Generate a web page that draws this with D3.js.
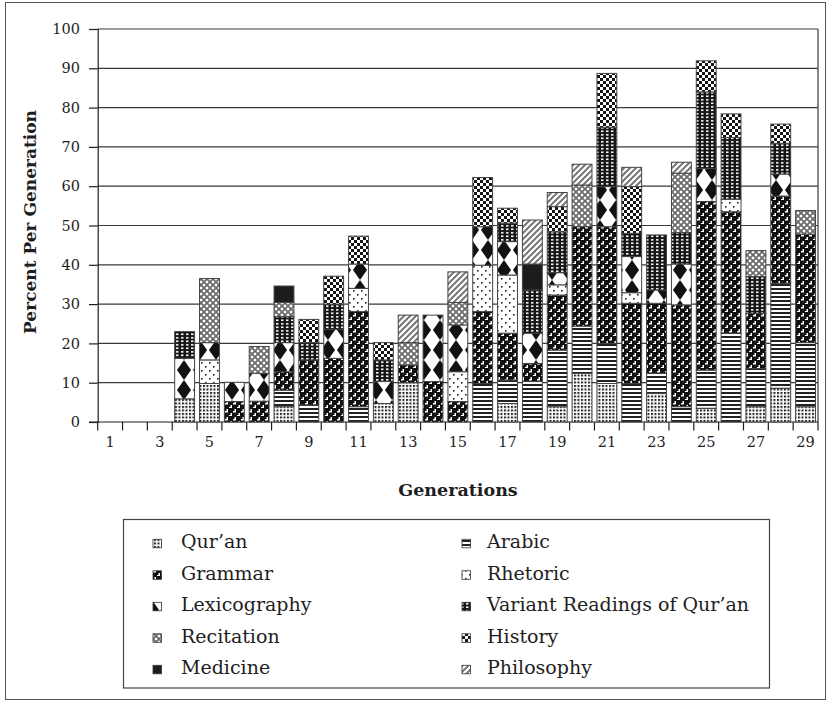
<!DOCTYPE html>
<html><head><meta charset="utf-8">
<script src="https://cdn.jsdelivr.net/npm/d3@7"></script>
<style>body{margin:0;background:#fff} svg{display:block}</style>
</head><body><svg id="chart" width="832" height="704"></svg>
<script>
const generations = [1,2,3,4,5,6,7,8,9,10,11,12,13,14,15,16,17,18,19,20,21,22,23,24,25,26,27,28,29];
const xTickLabels = ["1","3","5","7","9","11","13","15","17","19","21","23","25","27","29"];
const yTickValues = [0,10,20,30,40,50,60,70,80,90,100];
const seriesNames = ["Qur\u2019an","Arabic","Grammar","Rhetoric","Lexicography","Variant Readings of Qur\u2019an","Recitation","History","Medicine","Philosophy"];

const quran      = [0,0,0,5.9,9.8,0,0,3.9,0,0,0,4.7,10.0,0,0,0,4.7,0,3.9,12.4,9.8,0,7.3,0,3.5,0,3.9,8.6,3.9];
const arabic     = [0,0,0,0,0,0,0,4.2,4.3,0,3.9,0,0,0,0,9.8,6.0,10.3,14.4,12.0,10.2,9.8,5.1,3.9,9.7,22.6,9.7,26.7,16.3];
const grammar    = [0,0,0,0,0,5.2,5.3,4.7,11.5,16.2,24.2,0,4.5,10.3,5.2,18.3,11.9,4.6,14.0,25.3,29.7,20.4,17.8,25.9,42.9,30.9,14.0,22.2,27.6];
const rhetoric   = [0,0,0,0,6.0,0,0,0,0,0,5.9,0,0,0,7.6,11.8,14.8,0,2.6,0,0,2.7,0,0,0,3.2,0,0,0];
const lexicography=[0,0,0,10.3,4.4,4.9,7.1,7.4,0,7.4,6.2,5.6,0,16.9,11.9,9.8,8.5,7.7,3.1,0,10.2,9.2,3.4,10.4,8.4,0,0,5.6,0];
const variant    = [0,0,0,6.8,0,0,0,6.6,4.4,6.4,0,5.5,0,0,0,0,4.7,11.0,10.4,0,15.1,5.9,14.0,8.0,19.5,15.7,9.4,7.8,0];
const recitation = [0,0,0,0,16.3,0,6.8,3.6,0,0,0,0,5.7,0,5.7,0,0,0,0,10.6,0,0,0,15.1,0,0,6.6,0,6.0];
const history    = [0,0,0,0,0,0,0,0,5.9,7.1,7.1,4.4,0,0,0,12.5,3.8,0,6.4,0,13.7,11.9,0,0,7.9,6.0,0,4.9,0];
const medicine   = [0,0,0,0,0,0,0,4.2,0,0,0,0,0,0,0,0,0,6.6,0,0,0,0,0,0,0,0,0,0,0];
const philosophy = [0,0,0,0,0,0,0,0,0,0,0,0,7.0,0,7.8,0,0,11.2,3.6,5.3,0,4.9,0,2.8,0,0,0,0,0];

(function(){
const seriesValues = [quran,arabic,grammar,rhetoric,lexicography,variant,recitation,history,medicine,philosophy];
const keys = ["q","a","g","r","l","v","rc","h","m","p"];
const table = generations.map((g,i)=>{ const o={gen:g}; keys.forEach((k,j)=>o[k]=seriesValues[j][i]); return o; });

const svg = d3.select("#chart");
const FONT = "'DejaVu Serif', serif";
const INK = "#1e1e1e";

const defs = svg.append("defs");
function pat(id,w,h,bg,draw){
  const p = defs.append("pattern").attr("id",id).attr("patternUnits","userSpaceOnUse").attr("width",w).attr("height",h);
  p.append("rect").attr("width",w).attr("height",h).attr("fill",bg);
  draw(p);
}
const R = (p,x,y,w,h,c)=>p.append("rect").attr("x",x).attr("y",y).attr("width",w).attr("height",h).attr("fill",c);
pat("p-q",3.5,3.5,"#fff",p=>{ R(p,0,0,2,2,"#222"); });
pat("p-a",4,4,"#fff",p=>{ R(p,0,0,4,2,"#222"); });
pat("p-g",8,8,"#111",p=>{
  R(p,1,3,3,1.5,"#fff"); R(p,2.5,1,1.5,2.5,"#fff");
  R(p,5,7,3,1,"#fff"); R(p,6.5,5,1.5,2.5,"#fff"); R(p,5,-1,3,0.5,"#fff");
});
pat("p-r",8,8,"#fff",p=>{ R(p,1,2,1.6,1.6,"#222"); R(p,5,6,1.6,1.6,"#222"); });
pat("p-l",16,20,"#fff",p=>{ p.append("path").attr("d","M8,0L15,10L8,20L1,10Z").attr("fill","#111"); });
pat("p-v",5,3.5,"#151515",p=>{ R(p,1,1,2.5,1.6,"#fff"); });
pat("p-rc",6,6,"#fff",p=>{
  p.append("path").attr("d","M0,0L6,6M6,0L0,6M5,-1L7,1M-1,5L1,7M-1,1L1,-1M5,7L7,5").attr("stroke","#6a6a6a").attr("stroke-width",1.7).attr("fill","none");
});
pat("p-h",6,6,"#fff",p=>{ R(p,0,0,3,3,"#151515"); R(p,3,3,3,3,"#151515"); });
pat("p-m",4,4,"#1c1c1c",p=>{});
pat("p-p",6,6,"#fff",p=>{
  p.append("path").attr("d","M0,6L6,0M-1,1L1,-1M5,7L7,5").attr("stroke","#777").attr("stroke-width",2).attr("fill","none");
});
const fillOf = k => `url(#p-${k})`;

svg.append("rect").attr("x",5.5).attr("y",2.5).attr("width",820).attr("height",697)
  .attr("fill","none").attr("stroke","#555").attr("stroke-width",1);

const pL = 97.7, pR = 818, pT = 29, pB = 422;
const x = d3.scaleBand().domain(generations).range([pL,pR]).paddingInner(0.2).paddingOuter(0.1);
const y = d3.scaleLinear().domain([0,100]).range([pB,pT]);

svg.append("g").selectAll("line").data(yTickValues.filter(v=>v>0)).join("line")
  .attr("x1",pL).attr("x2",pR).attr("y1",d=>y(d)).attr("y2",d=>y(d))
  .attr("stroke","#3a3a3a").attr("stroke-width",1.2);
svg.append("line").attr("x1",pR).attr("x2",pR).attr("y1",y(100)).attr("y2",y(0))
  .attr("stroke","#3a3a3a").attr("stroke-width",1.2);

const yAxis = svg.append("g").attr("transform",`translate(${pL},0)`)
  .call(d3.axisLeft(y).tickValues(yTickValues).tickSize(8.7).tickPadding(9).tickFormat(d3.format("d")));
yAxis.select(".domain").attr("stroke",INK).attr("stroke-width",1.2);
yAxis.selectAll(".tick line").attr("stroke",INK).attr("stroke-width",1.2);
yAxis.selectAll("text").attr("font-family",FONT).attr("font-size",14.5).attr("fill",INK);

const xAxis = svg.append("g").attr("transform",`translate(0,${pB})`)
  .call(d3.axisBottom(x).tickValues(generations.filter(g=>xTickLabels.includes(String(g)))).tickSize(0).tickPadding(15));
xAxis.select(".domain").remove();
xAxis.selectAll("text").attr("font-family",FONT).attr("font-size",14.5).attr("fill",INK);
svg.append("line").attr("x1",89).attr("x2",pR).attr("y1",pB).attr("y2",pB).attr("stroke",INK).attr("stroke-width",1.2);
const half = (x.step()-x.bandwidth())/2;
const bounds = generations.map(g=>x(g)-half).concat([x(generations[generations.length-1])+x.bandwidth()+half]);
svg.append("g").selectAll("line").data(bounds).join("line")
  .attr("x1",d=>d).attr("x2",d=>d).attr("y1",pB).attr("y2",pB+8.5)
  .attr("stroke",INK).attr("stroke-width",1.2);

const stacked = d3.stack().keys(keys)(table);
const gBars = svg.append("g");
stacked.forEach(s=>{
  gBars.append("g").selectAll("rect").data(s.filter(d=>d[1]-d[0]>0)).join("rect")
    .attr("x",d=>x(d.data.gen)).attr("width",x.bandwidth())
    .attr("y",d=>y(d[1])).attr("height",d=>y(d[0])-y(d[1]))
    .attr("fill",fillOf(s.key)).attr("stroke","#444").attr("stroke-width",1);
});

svg.append("text").attr("transform","translate(36,222) rotate(-90)").attr("text-anchor","middle")
  .attr("font-family",FONT).attr("font-weight","bold").attr("font-size",17).attr("fill",INK)
  .text("Percent Per Generation");
svg.append("text").attr("x",458).attr("y",496).attr("text-anchor","middle")
  .attr("font-family",FONT).attr("font-weight","bold").attr("font-size",17.5).attr("fill",INK)
  .text("Generations");

svg.append("rect").attr("x",123.5).attr("y",519.5).attr("width",646).attr("height",168.5)
  .attr("fill","none").attr("stroke","#444").attr("stroke-width",1.2);
const lg = svg.append("g");
seriesNames.forEach((name,i)=>{
  const col = i%2, row = Math.floor(i/2);
  const bx = col===0 ? 153 : 462, tx = col===0 ? 181 : 487;
  const base = 548 + row*31.5;
  lg.append("rect").attr("x",bx).attr("y",base-8.7).attr("width",8.5).attr("height",8.5)
    .attr("fill",fillOf(keys[i])).attr("stroke","#333").attr("stroke-width",0.8);
  lg.append("text").attr("x",tx).attr("y",base).attr("font-family",FONT).attr("font-size",19)
    .attr("fill",INK).text(name);
});
})();
</script></body></html>
